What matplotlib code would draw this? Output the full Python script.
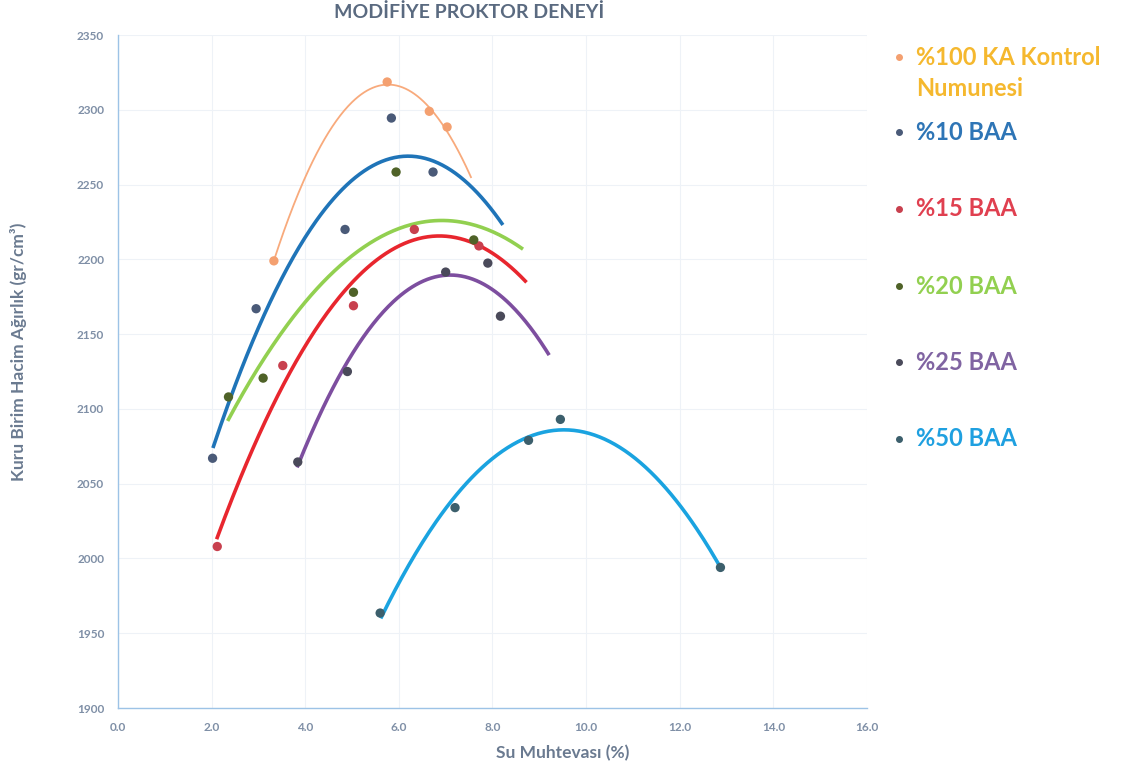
import numpy as np
import matplotlib
matplotlib.use("Agg")
import matplotlib.pyplot as plt

plt.rcParams['font.family'] = ['Lato', 'DejaVu Sans']

# Series names (legend)
labels = [
    "%100 KA Kontrol\nNumunesi",
    "%10 BAA",
    "%15 BAA",
    "%20 BAA",
    "%25 BAA",
    "%50 BAA",
]

# Measured points (water content %, dry unit weight)
x_100 = [3.33, 5.75, 6.65, 7.03]
y_100 = [2199, 2318.6, 2299, 2288.5]

x_10 = [2.02, 2.95, 4.85, 5.84, 6.73]
y_10 = [2067, 2167, 2220, 2294.5, 2258.4]

x_15 = [2.12, 3.52, 5.03, 6.33, 7.71]
y_15 = [2008, 2129, 2169, 2220, 2209]

x_20 = [2.36, 3.10, 5.03, 5.94, 7.60]
y_20 = [2108, 2120.6, 2178, 2258.4, 2213]

x_25 = [3.84, 4.90, 7.00, 7.90, 8.17]
y_25 = [2064.5, 2125, 2191.5, 2197.5, 2162]

x_50 = [5.60, 7.20, 8.77, 9.45, 12.87]
y_50 = [1963.5, 2034, 2079, 2093, 1994]

# Trendline points (start, top, end)
tx_100 = [3.33, 5.75, 6.65, 7.54]
ty_100 = [2199, 2318.6, 2299, 2256]
tx_10 = [2.04, 6.16, 8.20]
ty_10 = [2075, 2269, 2224]
tx_15 = [2.12, 6.80, 8.70]
ty_15 = [2014, 2215.6, 2185.5]
tx_20 = [2.36, 6.92, 8.62]
ty_20 = [2093, 2226, 2207.5]
tx_25 = [3.84, 7.13, 9.19]
ty_25 = [2062, 2189.5, 2137]
tx_50 = [5.63, 9.55, 12.87]
ty_50 = [1961, 2086, 1994]

xs = [x_100, x_10, x_15, x_20, x_25, x_50]
ys = [y_100, y_10, y_15, y_20, y_25, y_50]
txs = [tx_100, tx_10, tx_15, tx_20, tx_25, tx_50]
tys = [ty_100, ty_10, ty_15, ty_20, ty_25, ty_50]

line_colors = ['#F8AA7C', '#1F74B8', '#E8262E', '#92D050', '#7D4E9F', '#1AA3E0']
line_widths = [1.3, 2.6, 2.6, 2.6, 2.6, 2.6]
point_colors = ['#F4A070', '#4A5A78', '#C8404E', '#4F6228', '#4A4A5A', '#3C5F6C']
text_colors = ['#F5B82E', '#2E75B6', '#E04050', '#92D050', '#8064A2', '#1FA0E0']

fig = plt.figure(figsize=(11.37, 7.70), dpi=100)
ax = fig.add_axes([0.1038, 0.0805, 0.6587, 0.874])

for i in range(len(labels)):
    coef = np.polyfit(txs[i], tys[i], 2)
    xx = np.linspace(txs[i][0], txs[i][-1], 200)
    ax.plot(xx, np.polyval(coef, xx), color=line_colors[i],
            lw=line_widths[i], zorder=2)
    ax.scatter(xs[i], ys[i], s=45, color=point_colors[i],
               edgecolors='none', zorder=3)

ax.set_xlim(0, 16)
ax.set_ylim(1900, 2350)
ax.set_xticks(np.arange(0, 16.1, 2))
ax.set_xticklabels([f"{v:.1f}" for v in np.arange(0, 16.1, 2)])
ax.set_yticks(np.arange(1900, 2351, 50))

ax.grid(True, color='#EEF2F7', lw=0.8)
ax.set_axisbelow(True)
for s in ['top', 'right']:
    ax.spines[s].set_visible(False)
for s in ['left', 'bottom']:
    ax.spines[s].set_color('#9DC3E6')
    ax.spines[s].set_linewidth(1.0)
ax.tick_params(length=0, pad=10, labelsize=8.5, labelcolor='#7F8FA6')
for t in ax.get_xticklabels() + ax.get_yticklabels():
    t.set_fontweight('bold')

fig.text(469 / 1137, 1 - 12 / 770, "MODİFİYE PROKTOR DENEYİ", fontsize=14,
         fontweight='bold', color='#5A6A80', ha='center', va='center')
ax.set_xlabel("Su Muhtevası (%)", fontsize=12.5, fontweight='bold',
              color='#6A7A90')
ax.xaxis.set_label_coords(0.594, -0.055)
ax.set_ylabel("Kuru Birim Hacim Ağırlık (gr/cm³)", fontsize=12.5,
              fontweight='bold', color='#6A7A90')
ax.yaxis.set_label_coords(-0.1215, 0.529)

# Legend drawn by hand on the right
leg_rows = [73, 132, 209, 286, 362, 439]
for i in range(len(labels)):
    yy = 1 - leg_rows[i] / 770
    yd = 1 - (57 if i == 0 else leg_rows[i]) / 770
    fig.lines.append(plt.Line2D([899 / 1137], [yd], marker='o', ms=4,
                                color=point_colors[i], ls='none',
                                transform=fig.transFigure))
    fig.text(916 / 1137, yy, labels[i], fontsize=17, fontweight='bold',
             color=text_colors[i], va='center', ha='left', linespacing=1.45)

fig.savefig("out.png", dpi=100)
